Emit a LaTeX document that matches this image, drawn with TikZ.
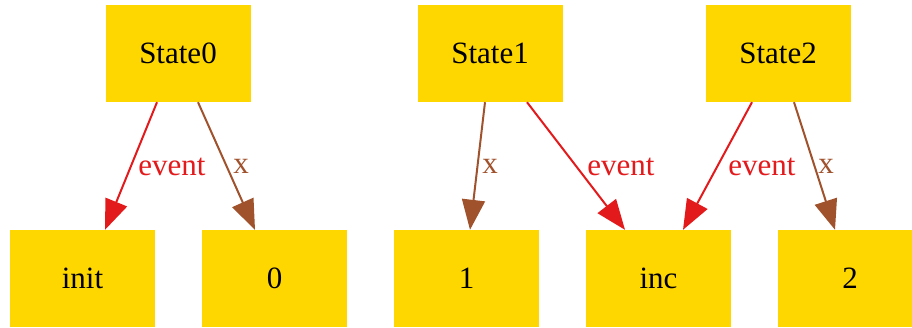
\documentclass[tikz,border=0pt]{standalone}
\usepackage{fontspec}
\setmainfont{Liberation Serif}
\usetikzlibrary{arrows.meta}
\definecolor{gold}{HTML}{FFD700}
\definecolor{ered}{HTML}{E31A1C}
\definecolor{ebrown}{HTML}{A0522D}
\begin{document}
\begin{tikzpicture}[x=1pt,y=-1pt,
  box/.style={fill=gold,draw=none,minimum width=145pt,minimum height=97pt,inner sep=0pt,font=\fontsize{31}{35}\selectfont},
  lbl/.style={font=\fontsize{31}{35}\selectfont,inner sep=0pt},
  evedge/.style={draw=ered,line width=2pt,-{Triangle[length=30pt,width=23pt]}},
  xedge/.style={draw=ebrown,line width=2pt,-{Triangle[length=30pt,width=23pt]}}]
\useasboundingbox (0,0) rectangle (912,327);
\clip (0,0) rectangle (912,327);
\node[box] (s0) at (178,53.5) {State0};
\node[box] (s1) at (490,53.5) {State1};
\node[box] (s2) at (778,53.5) {State2};
\node[box] (init) at (82.5,278.5) {init};
\node[box] (n0) at (274.5,278.5) {0};
\node[box] (n1) at (466.5,278.5) {1};
\node[box] (inc) at (658.5,278.5) {inc};
\node[box] (n2) at (850,278.5) {2};
\draw[evedge] ([xshift=-21pt]s0.south) -- ([xshift=22.5pt]init.north);
\draw[xedge] ([xshift=20pt]s0.south) -- ([xshift=-19.5pt]n0.north);
\draw[xedge] ([xshift=-5pt]s1.south) -- ([xshift=3.5pt]n1.north);
\draw[evedge] ([xshift=37pt]s1.south) -- ([xshift=-33.5pt]inc.north);
\draw[evedge] ([xshift=-26pt]s2.south) -- ([xshift=24.5pt]inc.north);
\draw[xedge] ([xshift=16pt]s2.south) -- ([xshift=-15pt]n2.north);
\node[lbl,text=ered] (l1) at (172,167) {event};
\node[lbl,text=ebrown] (l2) at (241,166) {x};
\node[lbl,text=ebrown] (l3) at (490,166) {x};
\node[lbl,text=ered] (l4) at (621,167) {event};
\node[lbl,text=ered] (l5) at (762,167) {event};
\node[lbl,text=ebrown] (l6) at (826,166) {x};
\end{tikzpicture}
\end{document}
